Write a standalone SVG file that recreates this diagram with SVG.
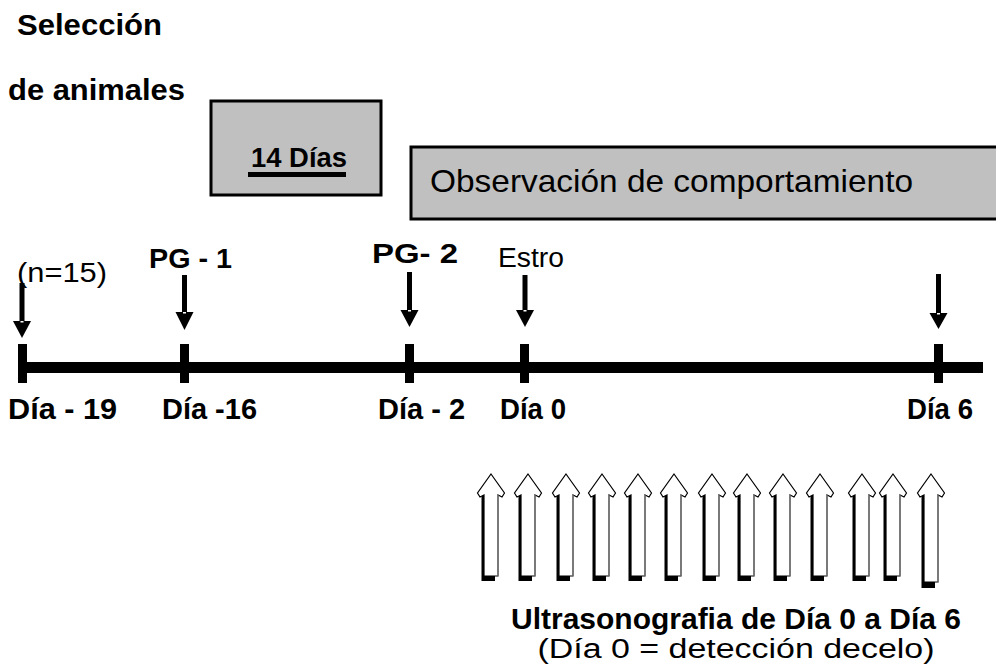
<svg xmlns="http://www.w3.org/2000/svg" width="996" height="667" viewBox="0 0 996 667">
<style>
text{font-family:"Liberation Sans",Arial,sans-serif;fill:#000}
.b{font-weight:bold}
.box{fill:#c0c0c0;stroke:#000;stroke-width:3}
.ar{fill:#000}
.nt{fill:#fff}
</style>
<defs>
<g id="ua">
<path d="M-9.5,22 h3 v80 h10.5 v5 h-13.5 z" fill="#000"/>
<path d="M0,0 L13.5,19 L11,23 L7,21 V102 H-7 V21 L-11,23 L-13.5,19 Z" fill="#fff" stroke="#000" stroke-width="1.2"/>
<path d="M7,21 V102" stroke="#888" stroke-width="1.2"/>
</g>
<g id="ua2">
<path d="M-9.5,22 h3 v86 h10.5 v6 h-13.5 z" fill="#000"/>
<path d="M0,0 L13.5,19 L11,23 L7,21 V108 H-7 V21 L-11,23 L-13.5,19 Z" fill="#fff" stroke="#000" stroke-width="1.2"/>
<path d="M7,21 V108" stroke="#888" stroke-width="1.2"/>
</g>
</defs>
<rect width="996" height="667" fill="#fff"/>

<g id="seleccion">
<text class="b" x="17" y="35" font-size="30" textLength="145" lengthAdjust="spacingAndGlyphs">Selección</text>
<text class="b" x="8" y="100" font-size="30" textLength="177" lengthAdjust="spacingAndGlyphs">de animales</text>
</g>

<g id="dias14">
<rect class="box" x="211" y="101" width="170" height="94"/>
<text class="b" x="251" y="167" font-size="27" textLength="96" lengthAdjust="spacingAndGlyphs">14 Días</text>
<rect x="248" y="172" width="98" height="5" fill="#000"/>
</g>

<g id="observacion">
<rect class="box" x="411" y="147" width="600" height="72"/>
<text x="430" y="192" font-size="32" textLength="483" lengthAdjust="spacingAndGlyphs">Observación de comportamiento</text>
</g>

<g id="timeline">
<rect x="18" y="362" width="965" height="11" fill="#000"/>
<rect x="18" y="344" width="9" height="39" fill="#000"/>
<rect x="180" y="344" width="9" height="39" fill="#000"/>
<rect x="405" y="344" width="9" height="39" fill="#000"/>
<rect x="520" y="344" width="9" height="39" fill="#000"/>
<rect x="934" y="344" width="9" height="39" fill="#000"/>
</g>

<g id="labels-top">
<text x="17" y="282" font-size="28" textLength="90" lengthAdjust="spacingAndGlyphs">(n=15)</text>
<text class="b" x="149" y="268" font-size="28" textLength="83" lengthAdjust="spacingAndGlyphs">PG - 1</text>
<text class="b" x="372" y="263" font-size="28" textLength="86" lengthAdjust="spacingAndGlyphs">PG- 2</text>
<text x="498" y="267" font-size="27" textLength="66" lengthAdjust="spacingAndGlyphs">Estro</text>
</g>

<g id="labels-bottom">
<text class="b" x="8" y="419" font-size="30" textLength="109" lengthAdjust="spacingAndGlyphs">Día - 19</text>
<text class="b" x="162" y="419" font-size="30" textLength="95" lengthAdjust="spacingAndGlyphs">Día -16</text>
<text class="b" x="378" y="419" font-size="30" textLength="87" lengthAdjust="spacingAndGlyphs">Día - 2</text>
<text class="b" x="500" y="419" font-size="30" textLength="66" lengthAdjust="spacingAndGlyphs">Día 0</text>
<text class="b" x="907" y="419" font-size="30" textLength="66" lengthAdjust="spacingAndGlyphs">Día 6</text>
</g>

<g id="connectors">
<g id="down-arrows">
<rect class="ar" x="19.5" y="283" width="5" height="38"/><polygon class="ar" points="13,321 31,321 22,338"/><rect class="nt" x="20.5" y="321" width="3" height="1.5"/>
<rect class="ar" x="182" y="275" width="5" height="37"/><polygon class="ar" points="175.5,312 193.5,312 184.5,330"/><rect class="nt" x="183" y="312" width="3" height="1.5"/>
<rect class="ar" x="407" y="272" width="5" height="38"/><polygon class="ar" points="400.5,310 418.5,310 409.5,327"/><rect class="nt" x="408" y="310" width="3" height="1.5"/>
<rect class="ar" x="522.5" y="275" width="5" height="35"/><polygon class="ar" points="516,310 534,310 525,327"/><rect class="nt" x="523.5" y="310" width="3" height="1.5"/>
<rect class="ar" x="936" y="274" width="5" height="39"/><polygon class="ar" points="929.5,313 947.5,313 938.5,329"/><rect class="nt" x="937" y="313" width="3" height="1.5"/>
</g>
<g id="up-arrows">
<use href="#ua" x="491" y="474"/>
<use href="#ua" x="528" y="474"/>
<use href="#ua" x="566" y="474"/>
<use href="#ua" x="602" y="474"/>
<use href="#ua" x="638" y="474"/>
<use href="#ua" x="674" y="474"/>
<use href="#ua" x="712" y="474"/>
<use href="#ua" x="747" y="474"/>
<use href="#ua" x="783" y="474"/>
<use href="#ua" x="820" y="474"/>
<use href="#ua" x="862" y="474"/>
<use href="#ua" x="893" y="474"/>
<use href="#ua2" x="931" y="474"/>
</g>
</g>

<g id="ultrasonografia">
<text class="b" x="736" y="629" font-size="29" text-anchor="middle" textLength="450" lengthAdjust="spacingAndGlyphs">Ultrasonografia de Día 0 a Día 6</text>
<text x="736" y="658" font-size="27" text-anchor="middle" textLength="397" lengthAdjust="spacingAndGlyphs">(Día 0 = detección decelo)</text>
</g>
</svg>
